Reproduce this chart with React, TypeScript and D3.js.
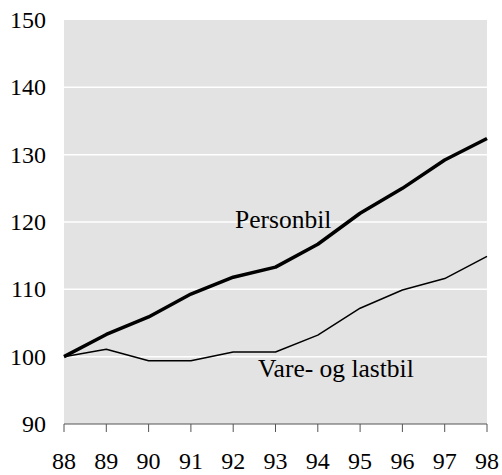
import React from "react";
import * as d3 from "d3";

const years = ["88", "89", "90", "91", "92", "93", "94", "95", "96", "97", "98"];
const personbil = [100, 103.3, 105.9, 109.3, 111.8, 113.3, 116.7, 121.3, 125.0, 129.2, 132.4];
const vareOgLastbil = [100, 101.1, 99.4, 99.4, 100.7, 100.7, 103.2, 107.2, 109.9, 111.6, 114.9];
const yTicks = [90, 100, 110, 120, 130, 140, 150];

const W = 502, H = 475;
const left = 64, right = 487, top = 20, bottom = 424;

export default function App() {
  const x = d3.scalePoint<string>().domain(years).range([left, right]);
  const y = d3.scaleLinear().domain([90, 150]).range([bottom, top]);
  const line = (vals: number[]) =>
    d3.line<number>().x((_, i) => x(years[i])!).y((v) => y(v))(vals)!;
  const fam = "Liberation Serif";
  return (
    <svg width={W} height={H} style={{ position: "absolute", left: 0, top: 0 }}>
      <rect x={left} y={top} width={right - left} height={bottom - top} fill="#e3e3e3" />
      {yTicks.filter((t) => t > 90 && t < 150).map((t) => (
        <line key={t} x1={left} x2={right} y1={y(t)} y2={y(t)} stroke="#ffffff" strokeWidth={1.5} />
      ))}
      {yTicks.map((t) => (
        <text key={t} x={46} y={y(t)} dy="0.33em" textAnchor="end" style={{ fontFamily: fam, fontSize: "24px" }} fill="#000">
          {t}
        </text>
      ))}
      <line x1={left} x2={right} y1={bottom} y2={bottom} stroke="#555" strokeWidth={1} />
      {years.map((yr) => (
        <g key={yr}>
          <line x1={x(yr)} x2={x(yr)} y1={bottom} y2={bottom + 8} stroke="#555" strokeWidth={1} />
          <text x={x(yr)} y={469} textAnchor="middle" style={{ fontFamily: fam, fontSize: "24px" }} fill="#000">
            {yr}
          </text>
        </g>
      ))}
      <path d={line(vareOgLastbil)} fill="none" stroke="#000" strokeWidth={1.5} strokeLinejoin="round" />
      <path d={line(personbil)} fill="none" stroke="#000" strokeWidth={3.5} strokeLinejoin="round" />
      <text x={235} y={228} style={{ fontFamily: fam, fontSize: "25.5px" }} fill="#000">Personbil</text>
      <text x={258} y={377} style={{ fontFamily: fam, fontSize: "25.5px" }} fill="#000">Vare- og lastbil</text>
    </svg>
  );
}
